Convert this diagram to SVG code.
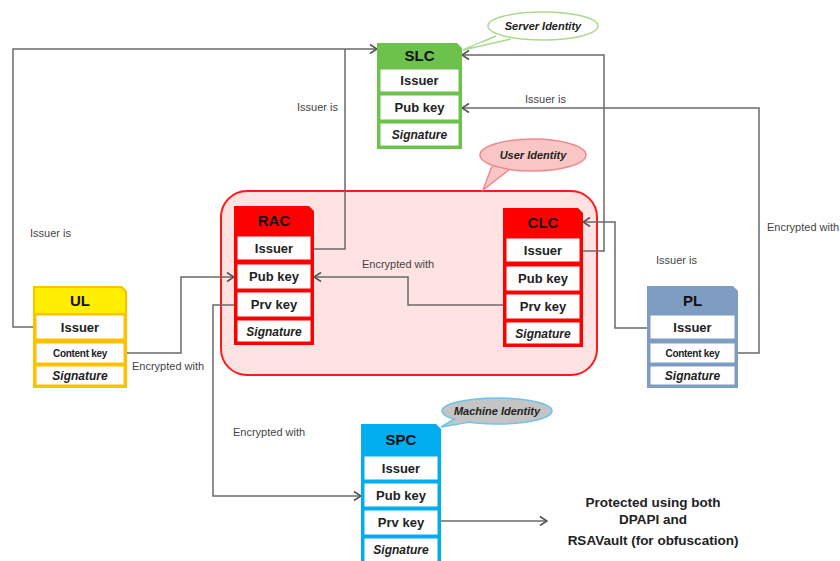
<svg xmlns="http://www.w3.org/2000/svg" width="840" height="561" viewBox="0 0 840 561">
<style>
.row{fill:#fff}
.hd{font-family:"Liberation Sans",Arial,sans-serif;font-weight:bold;font-size:15px;text-anchor:middle;fill:#111}
.rt{font-family:"Liberation Sans",Arial,sans-serif;font-weight:bold;font-size:13px;text-anchor:middle;fill:#222}
.sg{font-family:"Liberation Sans",Arial,sans-serif;font-weight:bold;font-style:italic;font-size:12px;text-anchor:middle;fill:#222}
.ck{font-family:"Liberation Sans",Arial,sans-serif;font-weight:bold;font-size:10px;text-anchor:middle;fill:#222;letter-spacing:-0.3px}
.lb{font-family:"Liberation Sans",Arial,sans-serif;font-size:11px;fill:#444}
.bt{font-family:"Liberation Sans",Arial,sans-serif;font-weight:bold;font-style:italic;font-size:11px;text-anchor:middle;fill:#222}
.pt{font-family:"Liberation Sans",Arial,sans-serif;font-weight:bold;font-size:13.5px;text-anchor:middle;fill:#222}
.cn{fill:none;stroke:#6a6a6a;stroke-width:1.5}
.ar{marker-end:url(#arr)}
</style>
<defs>
<marker id="arr" markerUnits="userSpaceOnUse" markerWidth="12" markerHeight="12" viewBox="0 0 12 12" refX="11" refY="6" orient="auto">
<path d="M4,1.5 L11,6 L4,10.5" fill="none" stroke="#555" stroke-width="1.6"/>
</marker>
</defs>

<!-- container -->
<g id="user-identity-group">
<rect x="221" y="191" width="376" height="184" rx="26" ry="26" fill="#FFE2E2" stroke="#FF1A1A" stroke-width="2"/>
</g>

<!-- connectors -->
<g id="connectors">
<path class="cn ar" d="M33,327 H13 V49 H377"/>
<path class="cn" d="M314,249 H345 V49"/>
<path class="cn ar" d="M583,251 H604 V55 H462"/>
<path class="cn ar" d="M647,328 H615 V222 H583"/>
<path class="cn ar" d="M738,353 H759 V108 H462"/>
<path class="cn ar" d="M127,353 H181 V277 H234"/>
<path class="cn ar" d="M503,305 H408 V277 H314"/>
<path class="cn ar" d="M234,305 H213 V496 H361"/>
<path class="cn ar" d="M441,521 H547"/>
<text class="lb" x="297" y="111">Issuer is</text>
<text class="lb" x="525" y="103">Issuer is</text>
<text class="lb" x="30" y="237">Issuer is</text>
<text class="lb" x="656" y="264">Issuer is</text>
<text class="lb" x="362" y="268">Encrypted with</text>
<text class="lb" x="132" y="370">Encrypted with</text>
<text class="lb" x="233" y="436">Encrypted with</text>
<text class="lb" x="767" y="231">Encrypted with</text>
</g>

<!-- bubbles -->
<g id="server-identity">
<path d="M496,36 L463,50 L511,39" fill="#fff" stroke="#A9D98E" stroke-width="1.5"/>
<ellipse cx="543" cy="26" rx="55" ry="14" fill="#fff" stroke="#A9D98E" stroke-width="1.5"/>
<path d="M498,37 L470,47 L509,38 Z" fill="#fff"/>
<text class="bt" x="543" y="30">Server Identity</text>
</g>
<g id="user-identity">
<path d="M492,166 L483,190 L510,169" fill="#F9C6C6" stroke="#EE8A8A" stroke-width="1.5"/>
<ellipse cx="533" cy="155" rx="53" ry="16" fill="#F9C6C6" stroke="#EE8A8A" stroke-width="1.5"/>
<path d="M494,167 L486,184 L508,170 Z" fill="#F9C6C6"/>
<text class="bt" x="533" y="159">User Identity</text>
</g>
<g id="machine-identity">
<path d="M456,418 L441,427 L470,422" fill="#C4C4C4" stroke="#6CC5EB" stroke-width="1.5"/>
<ellipse cx="497" cy="411" rx="55" ry="13" fill="#C4C4C4" stroke="#6CC5EB" stroke-width="1.5"/>
<path d="M458,418 L446,425 L468,422 Z" fill="#C4C4C4"/>
<text class="bt" x="497" y="415">Machine Identity</text>
</g>

<!-- SLC -->
<g id="SLC">
<path d="M377,43 H457 L462,48 V149 H377 Z" fill="#6CC24A"/>
<rect class="row" x="380" y="69" width="79" height="23" stroke="#6CC24A"/>
<rect class="row" x="380" y="95" width="79" height="25" stroke="#6CC24A"/>
<rect class="row" x="380" y="123" width="79" height="23" stroke="#6CC24A"/>
<text class="hd" x="419.5" y="61">SLC</text>
<text class="rt" x="419.5" y="85">Issuer</text>
<text class="rt" x="419.5" y="112">Pub key</text>
<text class="sg" x="419.5" y="139">Signature</text>
</g>

<!-- RAC -->
<g id="RAC">
<path d="M234,206 H309 L314,211 V345 H234 Z" fill="#FF0000"/>
<rect class="row" x="237" y="236" width="74" height="24" stroke="#FF0000"/>
<rect class="row" x="237" y="264" width="74" height="25" stroke="#FF0000"/>
<rect class="row" x="237" y="292" width="74" height="25" stroke="#FF0000"/>
<rect class="row" x="237" y="320" width="74" height="22" stroke="#FF0000"/>
<text class="hd" x="274" y="226">RAC</text>
<text class="rt" x="274" y="253">Issuer</text>
<text class="rt" x="274" y="281">Pub key</text>
<text class="rt" x="274" y="309">Prv key</text>
<text class="sg" x="274" y="336">Signature</text>
</g>

<!-- CLC -->
<g id="CLC">
<path d="M503,208 H578 L583,213 V347 H503 Z" fill="#FF0000"/>
<rect class="row" x="506" y="238" width="74" height="24" stroke="#FF0000"/>
<rect class="row" x="506" y="266" width="74" height="25" stroke="#FF0000"/>
<rect class="row" x="506" y="294" width="74" height="25" stroke="#FF0000"/>
<rect class="row" x="506" y="322" width="74" height="22" stroke="#FF0000"/>
<text class="hd" x="543" y="228">CLC</text>
<text class="rt" x="543" y="255">Issuer</text>
<text class="rt" x="543" y="283">Pub key</text>
<text class="rt" x="543" y="311">Prv key</text>
<text class="sg" x="543" y="338">Signature</text>
</g>

<!-- UL -->
<g id="UL">
<path d="M33,286 H122 L127,291 V388 H33 Z" fill="#FFC000"/>
<path d="M35,288 H121 L125,292 V313 H35 Z" fill="#FFEE00"/>
<rect class="row" x="36" y="315" width="88" height="24" stroke="#FFC000"/>
<rect class="row" x="36" y="343" width="88" height="20" stroke="#FFC000"/>
<rect class="row" x="36" y="366" width="88" height="19" stroke="#FFC000"/>
<text class="hd" x="80" y="306">UL</text>
<text class="rt" x="80" y="332">Issuer</text>
<text class="ck" x="80" y="357">Content key</text>
<text class="sg" x="80" y="380">Signature</text>
</g>

<!-- PL -->
<g id="PL">
<path d="M647,286 H733 L738,291 V388 H647 Z" fill="#7F9CC3"/>
<rect class="row" x="650" y="315" width="85" height="24" stroke="#7F9CC3"/>
<rect class="row" x="650" y="343" width="85" height="20" stroke="#7F9CC3"/>
<rect class="row" x="650" y="366" width="85" height="19" stroke="#7F9CC3"/>
<text class="hd" x="692.5" y="306">PL</text>
<text class="rt" x="692.5" y="332">Issuer</text>
<text class="ck" x="692.5" y="357">Content key</text>
<text class="sg" x="692.5" y="380">Signature</text>
</g>

<!-- SPC -->
<g id="SPC">
<path d="M361,424 H436 L441,429 V564 H361 Z" fill="#00ADEF"/>
<rect class="row" x="364" y="456" width="74" height="24" stroke="#00ADEF"/>
<rect class="row" x="364" y="483" width="74" height="24" stroke="#00ADEF"/>
<rect class="row" x="364" y="510" width="74" height="25" stroke="#00ADEF"/>
<rect class="row" x="364" y="538" width="74" height="24" stroke="#00ADEF"/>
<text class="hd" x="401" y="445">SPC</text>
<text class="rt" x="401" y="473">Issuer</text>
<text class="rt" x="401" y="500">Pub key</text>
<text class="rt" x="401" y="527">Prv key</text>
<text class="sg" x="401" y="554">Signature</text>
</g>

<g id="protected-note">
<text class="pt" x="653" y="507">Protected using both</text>
<text class="pt" x="653" y="524">DPAPI and</text>
<text class="pt" x="653" y="545">RSAVault (for obfuscation)</text>
</g>
</svg>
